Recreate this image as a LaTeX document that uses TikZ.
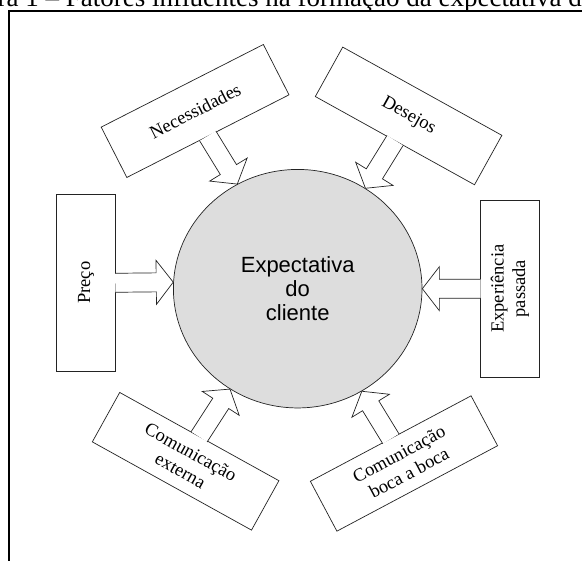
\documentclass[tikz,border=0pt]{standalone}
\usepackage{fontspec}
\setmainfont{Liberation Serif}
\newfontfamily\arialfont{Liberation Sans}
\usepackage{xcolor}
\usepackage{tikz}
\usetikzlibrary{shapes.geometric, calc}
\definecolor{linegray}{RGB}{35,35,35}
\definecolor{centrogray}{RGB}{221,221,221}
\tikzset{
  titulo/.style={inner sep=0pt, font=\fontsize{27}{30}\selectfont},
  moldura/.style={draw=black, line width=1.6pt},
  centro/.style={ellipse, draw=linegray, fill=centrogray, line width=0.7pt, inner sep=0pt, align=center, minimum width=248.6pt, minimum height=238.5pt, font=\arialfont\fontsize{22}{24}\selectfont},
  fator/.style={rectangle, draw=linegray, fill=white, line width=0.7pt, inner sep=2pt, align=center, minimum width=182pt, minimum height=56.5pt, font=\fontsize{18.5}{21.5}\selectfont},
  lateral/.style={fator, minimum width=177pt, minimum height=59pt},
  feed/.style={draw=linegray, fill=white, line width=0.7pt, line join=miter, to path={
    let \p1=($(\tikztotarget)-(\tikztostart)$), \n1={atan2(\y1,\x1)} in
    ($(\tikztostart)+(\n1+180:0.6)+(\n1+90:9.5)$)
    -- ($(\tikztotarget)+(\n1+180:17)+(\n1+90:9.5)$)
    -- ($(\tikztotarget)+(\n1+180:17)+(\n1+90:22)$)
    -- (\tikztotarget)
    -- ($(\tikztotarget)+(\n1+180:17)+(\n1-90:22)$)
    -- ($(\tikztotarget)+(\n1+180:17)+(\n1-90:9.5)$)
    -- ($(\tikztostart)+(\n1+180:0.6)+(\n1-90:9.5)$)}},
}

\begin{document}
\begin{tikzpicture}[x=1pt, y=1pt]
          \useasboundingbox (0,0) rectangle (582,561);
          \clip (0,0) rectangle (582,561);

          \node[titulo, anchor=base west] (titulo) at (-2.5,554.3) {ra 1 – Fatores influentes na formação da expectativa do};
          \draw[moldura] (9,-20) rectangle (620,550);

          \node[centro] (cliente) at (297.7,272.3) {Expectativa \\ do \\ cliente};

          \node[fator, rotate=27] (necess) at ([shift={(120:205.2)}]cliente.center) {Necessidades};

          \node[fator, rotate=-29] (desejos) at ([shift={(57.3:205.3)}]cliente.center) {Desejos};

          \node[lateral, rotate=90] (preco) at ([shift={(178.4:211.8)}]cliente.center) {Preço};

          \node[lateral, rotate=90] (experiencia) at ([shift={(0:212.1)}]cliente.center) {Experiência \\ passada};

          \node[fator, rotate=-29] (comext) at ([shift={(237:205.8)}]cliente.center) {Comunicação \\ externa};

          \node[fator, rotate=28] (boca) at ([shift={(301.3:204.6)}]cliente.center) {Comunicação \\ boca a boca};

          \draw[feed] (necess.south) to (cliente.120.7);
          \draw[feed] (desejos.south) to (cliente.56.2);
          \draw[feed] (preco.south) to (cliente.177.4);
          \draw[feed] (experiencia.north) to (cliente.0);
          \draw[feed] (comext.north) to (cliente.236.2);
          \draw[feed] (boca.north) to (cliente.302);
        \end{tikzpicture}
\end{document}
